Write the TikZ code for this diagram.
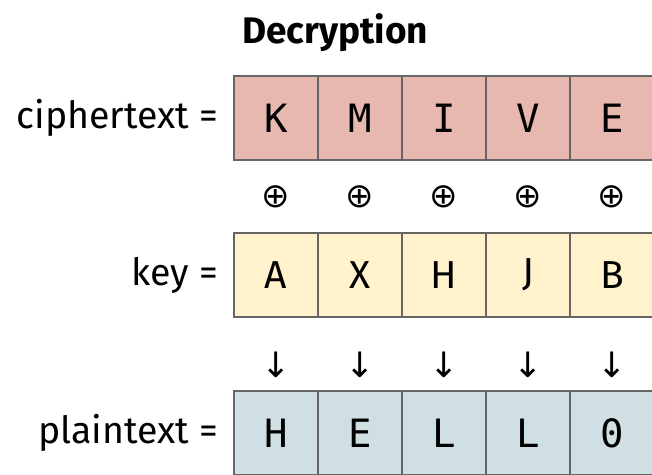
\documentclass[tikz,border=0pt]{standalone}
\usepackage{fontspec}
\setmainfont{Fira Sans}
\newfontfamily\cellmono{DejaVu Sans Mono}
\newfontfamily\symfont{DejaVu Sans}
\usetikzlibrary{positioning,calc}

\definecolor{cipherred}{HTML}{E6B8B0}
\definecolor{keyyellow}{HTML}{FFF2CC}
\definecolor{plainblue}{HTML}{D0DFE3}
\definecolor{cellborder}{HTML}{666666}

\begin{document}
\begin{tikzpicture}[
        x=1pt, y=1pt,
        node distance=0pt,
        cell/.style={rectangle, draw=cellborder, line width=1.5pt, minimum size=84pt, inner sep=0pt, outer sep=0pt, font=\fontsize{39}{44}\selectfont},
        cipher/.style={cell, fill=cipherred, font=\fontsize{39}{44}\selectfont\cellmono},
        keycell/.style={cell, fill=keyyellow},
        plain/.style={cell, fill=plainblue, font=\fontsize{39}{44}\selectfont\cellmono},
        rowlabel/.style={inner sep=0pt, font=\fontsize{37.5}{44}\selectfont},
        xorsign/.style={inner sep=0pt, font=\fontsize{34}{38}\selectfont\symfont},
        downsign/.style={inner sep=0pt, font=\fontsize{35}{40}\selectfont\symfont}
      ]
        \clip (0,0) rectangle (652,474);
        \fill[white] (0,0) rectangle (652,474);

        % Title
        \node[font=\fontsize{37}{44}\selectfont\bfseries] (title) at (335,441) {Decryption};

        % Ciphertext row
        \node[cipher] (c1) at (276,356) {K};
        \node[cipher, right=of c1] (c2) {M};
        \node[cipher, right=of c2] (c3) {I};
        \node[cipher, right=of c3] (c4) {V};
        \node[cipher, right=of c4] (c5) {E};

        % Key row
        \node[keycell] (k1) at (276,199) {A};
        \node[keycell, right=of k1] (k2) {X};
        \node[keycell, right=of k2] (k3) {H};
        \node[keycell, right=of k3] (k4) {J};
        \node[keycell, right=of k4] (k5) {B};

        % Plaintext row
        \node[plain] (p1) at (276,41) {H};
        \node[plain, right=of p1] (p2) {E};
        \node[plain, right=of p2] (p3) {L};
        \node[plain, right=of p3] (p4) {L};
        \node[plain, right=of p4] (p5) {0};

        % Row labels
        \node[rowlabel, left=16pt of c1] (clabel) {ciphertext =};
        \node[rowlabel, left=16pt of k1] (klabel) {key =};
        \node[rowlabel, left=16pt of p1] (plabel) {plaintext =};

        % XOR signs
        \node[xorsign] (x1) at ($(c1)!0.5!(k1)$) {⊕};
        \node[xorsign] (x2) at ($(c2)!0.5!(k2)$) {⊕};
        \node[xorsign] (x3) at ($(c3)!0.5!(k3)$) {⊕};
        \node[xorsign] (x4) at ($(c4)!0.5!(k4)$) {⊕};
        \node[xorsign] (x5) at ($(c5)!0.5!(k5)$) {⊕};

        % Down arrows
        \node[downsign, yshift=-11pt] (d1) at ($(k1)!0.5!(p1)$) {↓};
        \node[downsign, yshift=-11pt] (d2) at ($(k2)!0.5!(p2)$) {↓};
        \node[downsign, yshift=-11pt] (d3) at ($(k3)!0.5!(p3)$) {↓};
        \node[downsign, yshift=-11pt] (d4) at ($(k4)!0.5!(p4)$) {↓};
        \node[downsign, yshift=-11pt] (d5) at ($(k5)!0.5!(p5)$) {↓};
      \end{tikzpicture}
\end{document}
